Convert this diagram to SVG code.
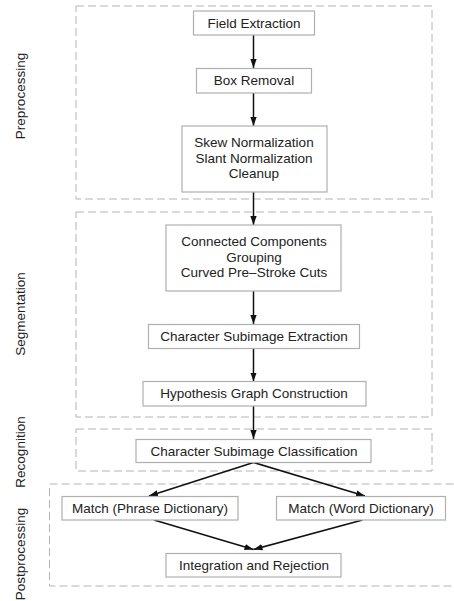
<svg xmlns="http://www.w3.org/2000/svg" width="454" height="601" viewBox="0 0 454 601">
<style>
.bg{fill:#fff}
.grp{fill:none;stroke:#b4b4b4;stroke-width:1;stroke-dasharray:8,4}
.box{fill:#fff;stroke:#b0b0b0;stroke-width:1.2}
.t{font-family:"Liberation Sans",Arial,sans-serif;font-size:13.5px;fill:#222;text-anchor:middle}
.lbl{font-family:"Liberation Sans",Arial,sans-serif;font-size:13.5px;fill:#222;text-anchor:middle}
.edge{fill:none;stroke:#111;stroke-width:1.5;marker-end:url(#ah)}
</style>
<defs>
<marker id="ah" viewBox="0 0 10 10" refX="10" refY="5" markerWidth="9" markerHeight="9" markerUnits="userSpaceOnUse" orient="auto">
<path d="M0,1.5 L10,5 L0,8.5 Z" fill="#111"/>
</marker>
</defs>
<rect class="bg" x="0" y="0" width="454" height="601"/>
<g id="groups">
<rect class="grp" x="76" y="6" width="356" height="193"/>
<rect class="grp" x="76" y="212" width="356" height="205"/>
<rect class="grp" x="76" y="429" width="356" height="42"/>
<rect class="grp" x="49.5" y="484" width="420" height="102"/>
<text class="lbl" transform="translate(24.5,96) rotate(-90)">Preprocessing</text>
<text class="lbl" transform="translate(24.5,314) rotate(-90)">Segmentation</text>
<text class="lbl" transform="translate(24.5,452) rotate(-90)">Recognition</text>
<text class="lbl" transform="translate(24.5,554) rotate(-90)">Postprocessing</text>
</g>
<g id="connectors">
<line class="edge" x1="253.5" y1="35" x2="253.5" y2="68"/>
<line class="edge" x1="253.5" y1="93" x2="253.5" y2="126"/>
<line class="edge" x1="253.5" y1="192" x2="253.5" y2="225"/>
<line class="edge" x1="253.5" y1="291" x2="253.5" y2="324"/>
<line class="edge" x1="253.5" y1="348" x2="253.5" y2="381.5"/>
<line class="edge" x1="253.5" y1="406" x2="253.5" y2="439"/>
<line class="edge" x1="253.5" y1="462.5" x2="149" y2="496"/>
<line class="edge" x1="253.5" y1="462.5" x2="365" y2="496"/>
<line class="edge" x1="154" y1="520" x2="253.5" y2="549.5"/>
<line class="edge" x1="362.5" y1="520" x2="253.5" y2="549.5"/>
</g>
<g id="n1"><rect class="box" x="193.5" y="11" width="121" height="24"/><text class="t" x="254" y="27.5">Field Extraction</text></g>
<g id="n2"><rect class="box" x="196.5" y="68.5" width="115" height="24.5"/><text class="t" x="254" y="85">Box Removal</text></g>
<g id="n3"><rect class="box" x="182" y="126" width="145" height="66"/><text class="t" x="254" y="146.5">Skew Normalization</text><text class="t" x="254" y="162.5">Slant Normalization</text><text class="t" x="254" y="178">Cleanup</text></g>
<g id="n4"><rect class="box" x="166" y="225" width="175" height="66"/><text class="t" x="254" y="245.5">Connected Components</text><text class="t" x="254" y="261.5">Grouping</text><text class="t" x="254" y="277">Curved Pre&#8211;Stroke Cuts</text></g>
<g id="n5"><rect class="box" x="148.5" y="324.5" width="211" height="24"/><text class="t" x="254" y="340.5">Character Subimage Extraction</text></g>
<g id="n6"><rect class="box" x="143" y="381.5" width="223" height="24.5"/><text class="t" x="254" y="398">Hypothesis Graph Construction</text></g>
<g id="n7"><rect class="box" x="136" y="439.5" width="235" height="23"/><text class="t" x="254" y="455.5">Character Subimage Classification</text></g>
<g id="n8"><rect class="box" x="62" y="496.5" width="176" height="23.5"/><text class="t" x="150" y="513">Match (Phrase Dictionary)</text></g>
<g id="n9"><rect class="box" x="276.5" y="496.5" width="169" height="23.5"/><text class="t" x="361" y="513">Match (Word Dictionary)</text></g>
<g id="n10"><rect class="box" x="166" y="553.5" width="175" height="23.5"/><text class="t" x="254" y="570">Integration and Rejection</text></g>
</svg>
